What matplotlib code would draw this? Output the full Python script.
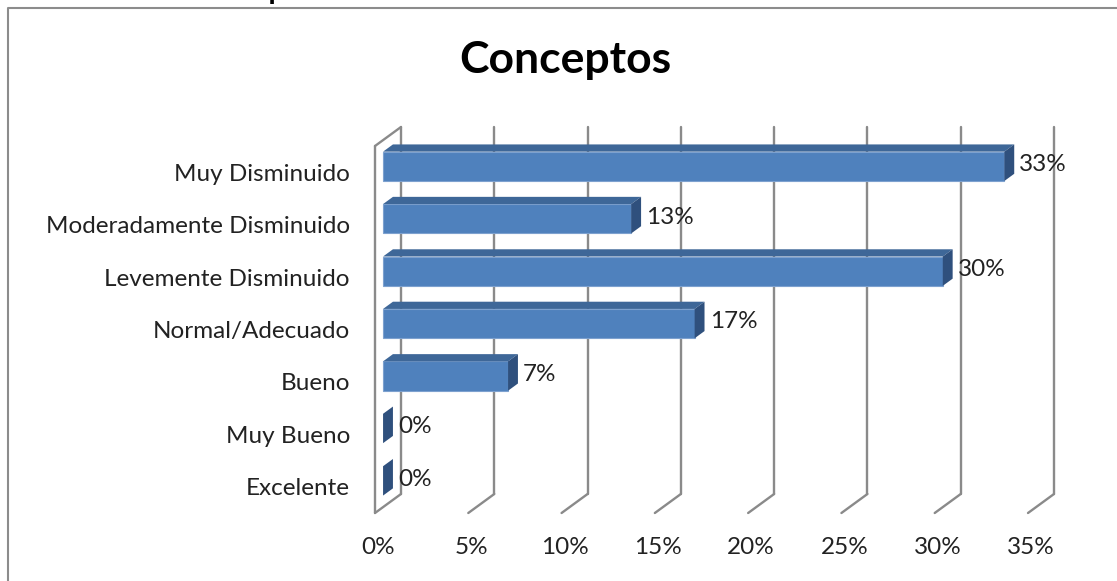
import matplotlib
matplotlib.use("Agg")
import matplotlib.pyplot as plt
from matplotlib.patches import Polygon
from matplotlib.lines import Line2D
from matplotlib.transforms import IdentityTransform
import numpy as np

categories = ["Muy Disminuido", "Moderadamente Disminuido", "Levemente Disminuido",
              "Normal/Adecuado", "Bueno", "Muy Bueno", "Excelente"]
values = [33.3, 13.3, 30.0, 16.7, 6.7, 0.0, 0.0]
ticks = [0, 5, 10, 15, 20, 25, 30, 35]
tick_labels = ["0%", "5%", "10%", "15%", "20%", "25%", "30%", "35%"]
title = "Conceptos"
header = "Gráfico N° 4 - Conceptos"

FONT = "Lato"
FS = 17.5
W, H = 1117, 581
fig = plt.figure(figsize=(W / 100, H / 100), dpi=100)
left_px, right_px, top_px, bot_px = 375, 1028, 146, 513
ax = fig.add_axes([left_px / W, 1 - bot_px / H, (right_px - left_px) / W, (bot_px - top_px) / H])
ax.set_xlim(0, 35)
ax.set_ylim(len(categories) - 0.5, -0.5)
ax.axis("off")

DEPTH = np.array([26.0, 19.0])  # px offset of back wall (right, up)


def P(x, y, d=0.0):
    return ax.transData.transform((x, y)) + d * DEPTH


def poly(pts, **kw):
    p = Polygon(np.array(pts), closed=True, transform=IdentityTransform(), clip_on=False, **kw)
    ax.add_artist(p)


def line(pts, **kw):
    pts = np.array(pts)
    l = Line2D(pts[:, 0], pts[:, 1], transform=IdentityTransform(), clip_on=False, **kw)
    ax.add_artist(l)


grid_kw = dict(color="#8a8a8a", lw=1.7, zorder=1, solid_capstyle="round")
ytop, ybot = -0.5, len(categories) - 0.5
# left wall
line([P(0, ytop, 0), P(0, ybot, 0)], **grid_kw)
line([P(0, ytop, 0), P(0, ytop, 1)], **grid_kw)
for t in ticks:
    line([P(t, ytop, 1), P(t, ybot, 1)], **grid_kw)
    line([P(t, ybot, 1), P(t, ybot, 0)], **grid_kw)

# bars
d0, d1 = 0.31, 0.69
bh = 0.56
c_front, c_top, c_side = "#4F81BD", "#3E6798", "#2F507D"
for i, v in enumerate(values):
    y0, y1 = i - bh / 2, i + bh / 2
    if v > 0:
        poly([P(0, y0, d0), P(v, y0, d0), P(v, y1, d0), P(0, y1, d0)],
             facecolor=c_front, edgecolor="#7DA1CF", lw=0.8, zorder=3)
        poly([P(0, y0, d0), P(v, y0, d0), P(v, y0, d1), P(0, y0, d1)],
             facecolor=c_top, edgecolor="none", zorder=3)
    poly([P(v, y0, d0), P(v, y0, d1), P(v, y1, d1), P(v, y1, d0)],
         facecolor=c_side, edgecolor="none", zorder=3)
    lp = P(v, i, 0.5)
    ax.text(lp[0] + 10, lp[1] - 2, f"{v:.0f}%", transform=IdentityTransform(),
            ha="left", va="center", fontsize=FS, family=FONT, color="#222222", zorder=4)

# category labels
for i, c in enumerate(categories):
    p = P(0, i, 0)
    ax.text(350, p[1] - 2, c, transform=IdentityTransform(), ha="right", va="center",
            fontsize=FS, family=FONT, color="#222222")

# tick labels
for t, lab in zip(ticks, tick_labels):
    p = P(t, ybot, 0)
    ax.text(p[0] + 3, H - 548, lab, transform=IdentityTransform(), ha="center", va="center",
            fontsize=FS, family=FONT, color="#222222")

# title
fig.text(565 / W, 1 - 60 / H, title, ha="center", va="center", fontsize=32,
         fontweight="bold", family=FONT, color="black")
# header partly cut off at the top edge (as in the reference)
fig.text(325 / W, 1 + 1.5 / H, header, ha="right", va="baseline", fontsize=21,
         fontweight="bold", family=FONT, color="black")

# outer border
fig.add_artist(Line2D([8 / W, 8 / W, 1.0], [0.0, 1 - 8 / H, 1 - 8 / H],
                      transform=fig.transFigure, color="#8c8c8c", lw=1.5))

fig.savefig("out.png", dpi=100, facecolor="white")
